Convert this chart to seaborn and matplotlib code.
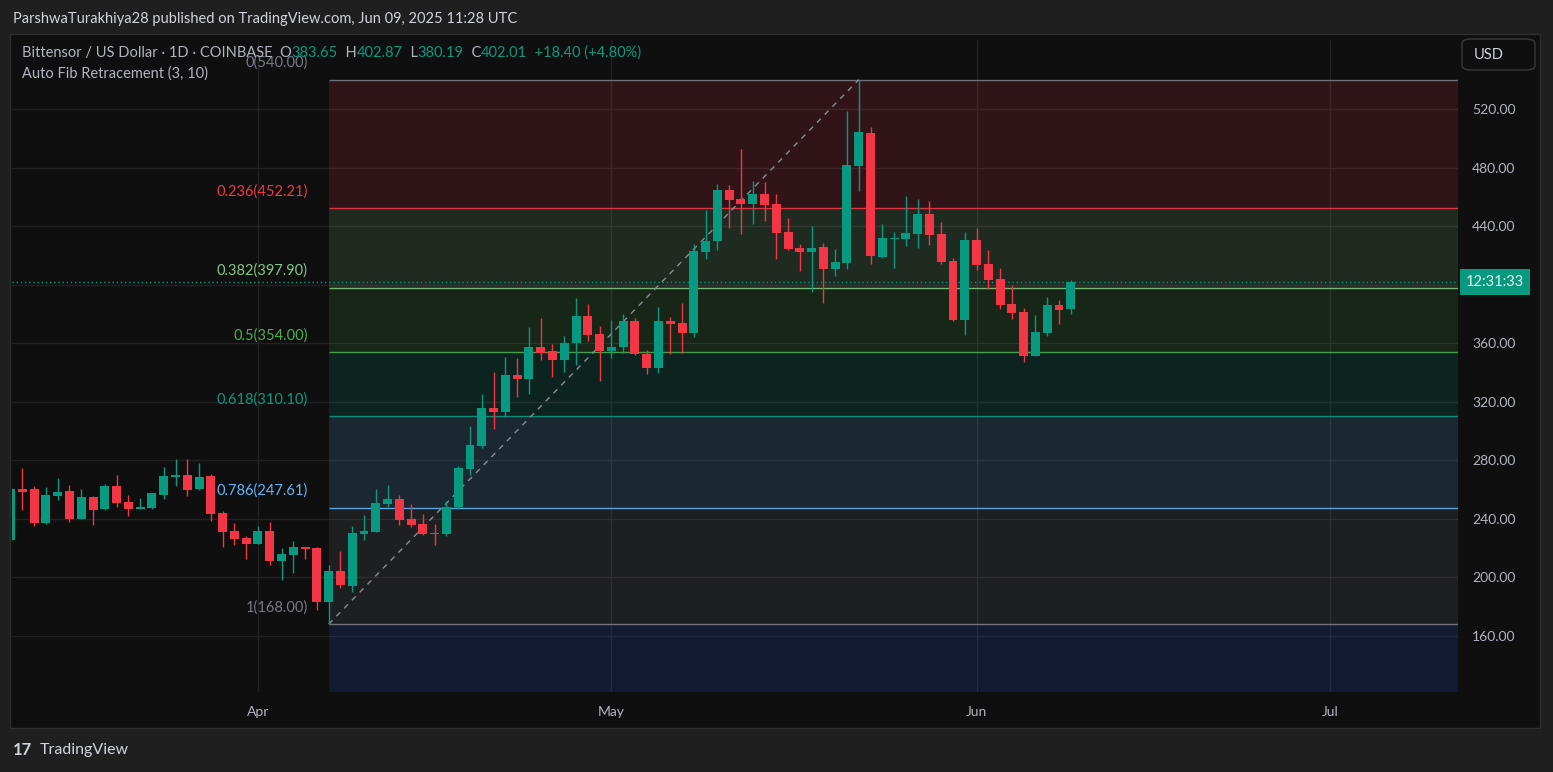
import pandas as pd
import matplotlib
matplotlib.use('Agg')
import matplotlib.pyplot as plt
import matplotlib.dates as mdates
import matplotlib.transforms as mtransforms
from matplotlib.patches import Rectangle, FancyBboxPatch
import seaborn as sns

# %%
# dados diários TAO/USD
datas = pd.date_range('2025-03-11', '2025-06-09', freq='D')

abertura = [225.5, 260.4, 260.4, 237.4, 255.8, 259.1, 240.2, 254.9, 246.8, 262.5,
            251.5, 246.8, 247.4, 256.3, 268.6, 270.0, 260.4, 269.3, 243.9, 231.7,
            227.0, 222.9, 231.7, 211.4, 215.6, 220.8, 220.1, 183.4, 204.2, 194.4,
            229.9, 231.2, 250.4, 253.6, 239.9, 236.5, 230.6, 229.9, 248.3, 274.1,
            289.8, 315.7, 313.0, 338.3, 335.6, 357.4, 354.7, 348.5, 360.2, 378.6,
            366.3, 354.7, 357.4, 375.2, 352.6, 343.1, 375.2, 373.8, 367.0, 422.5,
            429.9, 464.7, 458.5, 455.1, 461.9, 455.1, 436.0, 425.1, 422.3, 425.7,
            410.7, 414.8, 481.0, 503.6, 418.9, 431.2, 431.2, 434.6, 448.3, 434.6,
            416.2, 375.9, 430.5, 414.1, 403.9, 386.8, 381.3, 351.3, 367.0, 386.1,
            383.65]
maxima = [261.5, 274.8, 262.5, 261.8, 267.9, 263.2, 260.4, 255.6, 263.8, 270.0,
          256.3, 254.3, 257.7, 275.5, 281.0, 281.0, 278.2, 270.7, 245.4, 237.2,
          228.3, 235.1, 237.9, 220.1, 224.9, 221.0, 220.5, 208.7, 218.3, 235.1,
          242.7, 260.4, 263.2, 256.3, 250.2, 243.4, 236.5, 252.2, 276.1, 303.4,
          325.3, 340.3, 350.6, 349.9, 371.1, 377.2, 359.5, 365.0, 390.9, 386.8,
          371.8, 375.9, 379.9, 377.2, 355.4, 384.7, 377.9, 387.5, 427.8, 451.0,
          468.8, 468.1, 492.7, 470.8, 470.1, 461.9, 445.5, 427.8, 440.1, 428.5,
          424.4, 518.6, 540.0, 507.7, 441.4, 436.0, 460.6, 458.5, 457.2, 442.8,
          418.2, 436.0, 438.7, 423.7, 411.4, 399.8, 384.1, 379.3, 391.6, 389.5,
          402.87]
minima = [224.0, 246.1, 235.4, 236.8, 252.9, 238.1, 239.6, 235.8, 246.1, 248.0,
          242.0, 246.5, 246.8, 253.6, 262.5, 255.6, 260.0, 238.5, 220.8, 222.2,
          212.6, 222.5, 208.7, 198.5, 203.3, 212.8, 178.0, 168.0, 193.0, 190.3,
          225.6, 231.0, 248.0, 235.8, 234.4, 229.2, 222.2, 228.5, 247.0, 270.0,
          288.4, 301.4, 309.6, 323.3, 325.3, 348.5, 337.0, 340.3, 345.1, 361.5,
          334.2, 349.9, 353.3, 352.0, 339.0, 339.7, 352.6, 353.3, 364.0, 417.5,
          423.7, 438.7, 434.6, 441.4, 443.5, 417.5, 423.7, 409.3, 395.0, 387.5,
          405.9, 410.7, 464.0, 414.1, 418.2, 411.4, 426.4, 425.1, 427.1, 414.1,
          375.2, 365.6, 410.0, 397.1, 383.4, 376.5, 347.2, 351.0, 364.9, 373.1,
          380.19]
fechamento = [260.4, 258.6, 237.4, 256.3, 258.4, 240.2, 254.9, 246.1, 262.5, 250.9,
              246.8, 248.1, 257.7, 269.3, 270.0, 259.7, 268.6, 243.3, 231.0, 226.3,
              222.9, 231.7, 211.4, 216.0, 220.8, 219.6, 183.4, 204.2, 195.0, 230.4,
              231.7, 250.9, 253.6, 239.2, 235.8, 229.9, 229.9, 248.1, 274.8, 290.5,
              315.7, 313.0, 338.3, 335.6, 357.4, 353.3, 348.5, 360.2, 378.6, 365.6,
              354.7, 357.4, 375.2, 352.6, 343.1, 375.2, 373.1, 367.0, 423.0, 429.9,
              464.7, 457.8, 455.1, 461.9, 454.4, 435.3, 424.4, 422.3, 425.1, 410.7,
              415.5, 481.7, 504.3, 419.6, 431.9, 431.9, 435.3, 448.3, 433.9, 415.5,
              375.9, 430.5, 413.4, 403.2, 386.1, 380.6, 351.3, 367.7, 386.1, 382.7,
              402.01]

# níveis do Auto Fib (3, 10)
fib_niveis = ['0', '0.236', '0.382', '0.5', '0.618', '0.786', '1']
fib_precos = [540.00, 452.21, 397.90, 354.00, 310.10, 247.61, 168.00]
fib_cores = ['#787b86', '#f23645', '#81c784', '#4caf50', '#089981', '#64b5f6', '#787b86']
cor_abaixo = '#2962ff'
fib_inicio = '2025-04-07'
fib_fim = '2025-05-22'

precos_eixo = [160, 200, 240, 280, 320, 360, 400, 440, 480, 520]
meses = ['2025-04-01', '2025-05-01', '2025-06-01', '2025-07-01']
meses_txt = ['Apr', 'May', 'Jun', 'Jul']
ultimo = 402.01

# %%
W, H = 1553, 772
verde, vermelho = '#089981', '#f23645'
fundo = '#0f0f0f'
cinza_txt = '#b2b5be'

sns.set_style('dark', {'axes.facecolor': fundo, 'figure.facecolor': '#1f1f1f'})
plt.rcParams['font.family'] = ['Lato', 'DejaVu Sans']

fig = plt.figure(figsize=(W / 100, H / 100), dpi=100)
fig.patches.append(Rectangle((10 / W, 1 - 728 / H), 1530 / W, 694 / H,
                             transform=fig.transFigure, facecolor=fundo,
                             edgecolor='#2e2e2e', lw=1, zorder=-10))

ax = fig.add_axes([12 / W, 1 - 692 / H, (1458 - 12) / W, (692 - 40) / H])
ax.set_zorder(1)
ax.set_facecolor(fundo)

x = mdates.date2num(datas)
abr1 = mdates.date2num(pd.Timestamp('2025-04-01'))
x0, x1 = abr1 - 20.88, abr1 + 101.87
y0, y1 = 121.7, 567.1
ax.set_xlim(x0, x1)
ax.set_ylim(y0, y1)

# grade
ax.set_yticks(precos_eixo)
# o 400 fica escondido atrás da etiqueta do preço atual
ax.set_yticklabels(['' if p == 400 else f'{p:.2f}' for p in precos_eixo])
ax.set_xticks(mdates.date2num(pd.to_datetime(meses)))
ax.set_xticklabels(meses_txt)
ax.grid(True, color='#222222', lw=1)
ax.set_axisbelow(True)
ax.yaxis.tick_right()
ax.tick_params(axis='y', length=0, pad=10, labelsize=10, labelcolor=cinza_txt)
ax.tick_params(axis='x', length=0, pad=10, labelsize=10, labelcolor=cinza_txt)
for s in ax.spines.values():
    s.set_visible(False)

# faixas de fibonacci
fx0 = mdates.date2num(pd.Timestamp(fib_inicio))
topos = fib_precos
fundos = fib_precos[1:] + [y0]
cores_faixa = fib_cores[1:] + [cor_abaixo]
for hi, lo, c in zip(topos, fundos, cores_faixa):
    ax.fill_between([fx0, x1], lo, hi, color=c, alpha=0.15, lw=0, zorder=1)
for nv, p, c in zip(fib_niveis, fib_precos, fib_cores):
    ax.hlines(p, fx0, x1, color=c, lw=1, alpha=0.9, zorder=2)
    ax.annotate(f'{nv}({p:.2f})', xy=(fx0, p), xytext=(-15, 12), textcoords='offset points',
                ha='right', va='center', color=c, fontsize=10.5, zorder=6)

# linha de tendência tracejada
sns.lineplot(x=mdates.date2num(pd.to_datetime([fib_inicio, fib_fim])),
             y=[min(minima), max(maxima)], ax=ax, color='#8a8d96',
             linestyle=(0, (4, 4)), lw=1, zorder=3)

# velas
for xi, o, h, l, c in zip(x, abertura, maxima, minima, fechamento):
    cor = verde if c >= o else vermelho
    ax.vlines(xi, l, h, color=cor, lw=1, zorder=4)
    ax.bar(xi, max(abs(c - o), 0.7), bottom=min(o, c), width=0.76, color=cor, lw=0, zorder=5)

# preço atual
ax.axhline(ultimo, color=verde, lw=1, linestyle=(0, (1, 2)), zorder=3)
trans = mtransforms.blended_transform_factory(ax.transAxes, ax.transData)
ax.text(1.0 + 8 / 1446, ultimo, '12:31:33', transform=trans, ha='left', va='center',
        color='#e6f5f1', fontsize=10.5, clip_on=False, zorder=7,
        bbox=dict(boxstyle='square,pad=0.4', fc=verde, ec='none'))

# %%
# textos do cabeçalho
fig.text(13 / W, 1 - 19 / H, 'ParshwaTurakhiya28 published on TradingView.com, Jun 09, 2025 11:28 UTC',
         color='#d1d4dc', fontsize=10.5, va='center')

renderer = fig.canvas.get_renderer()
pos = 22
pecas = [('Bittensor / US Dollar · 1D · COINBASE  O', cinza_txt), ('383.65', verde),
         ('  H', cinza_txt), ('402.87', verde), ('  L', cinza_txt), ('380.19', verde),
         ('  C', cinza_txt), ('402.01', verde), ('  +18.40 (+4.80%)', verde)]
for txt, cor in pecas:
    t = fig.text(pos / W, 1 - 53 / H, txt, color=cor, fontsize=10.5, va='center', zorder=5)
    pos += t.get_window_extent(renderer=renderer).width
fig.text(22 / W, 1 - 74 / H, 'Auto Fib Retracement (3, 10)', color=cinza_txt, fontsize=10.5,
         va='center', zorder=5)

fig.patches.append(FancyBboxPatch((1462 / W, 1 - 70 / H), 73 / W, 31 / H,
                                  boxstyle='round,pad=0,rounding_size=0.006',
                                  transform=fig.transFigure, fc='none', ec='#3a3a3a', lw=1))
fig.text(1474 / W, 1 - 55 / H, 'USD', color='#d1d4dc', fontsize=10.5, va='center')

fig.text(13 / W, 1 - 750 / H, '17', color='#d1d4dc', fontsize=12, fontweight='bold', va='center')
fig.text(40 / W, 1 - 750 / H, 'TradingView', color='#d1d4dc', fontsize=11.5, va='center')

fig.savefig('out.png', dpi=100, facecolor=fig.get_facecolor())
